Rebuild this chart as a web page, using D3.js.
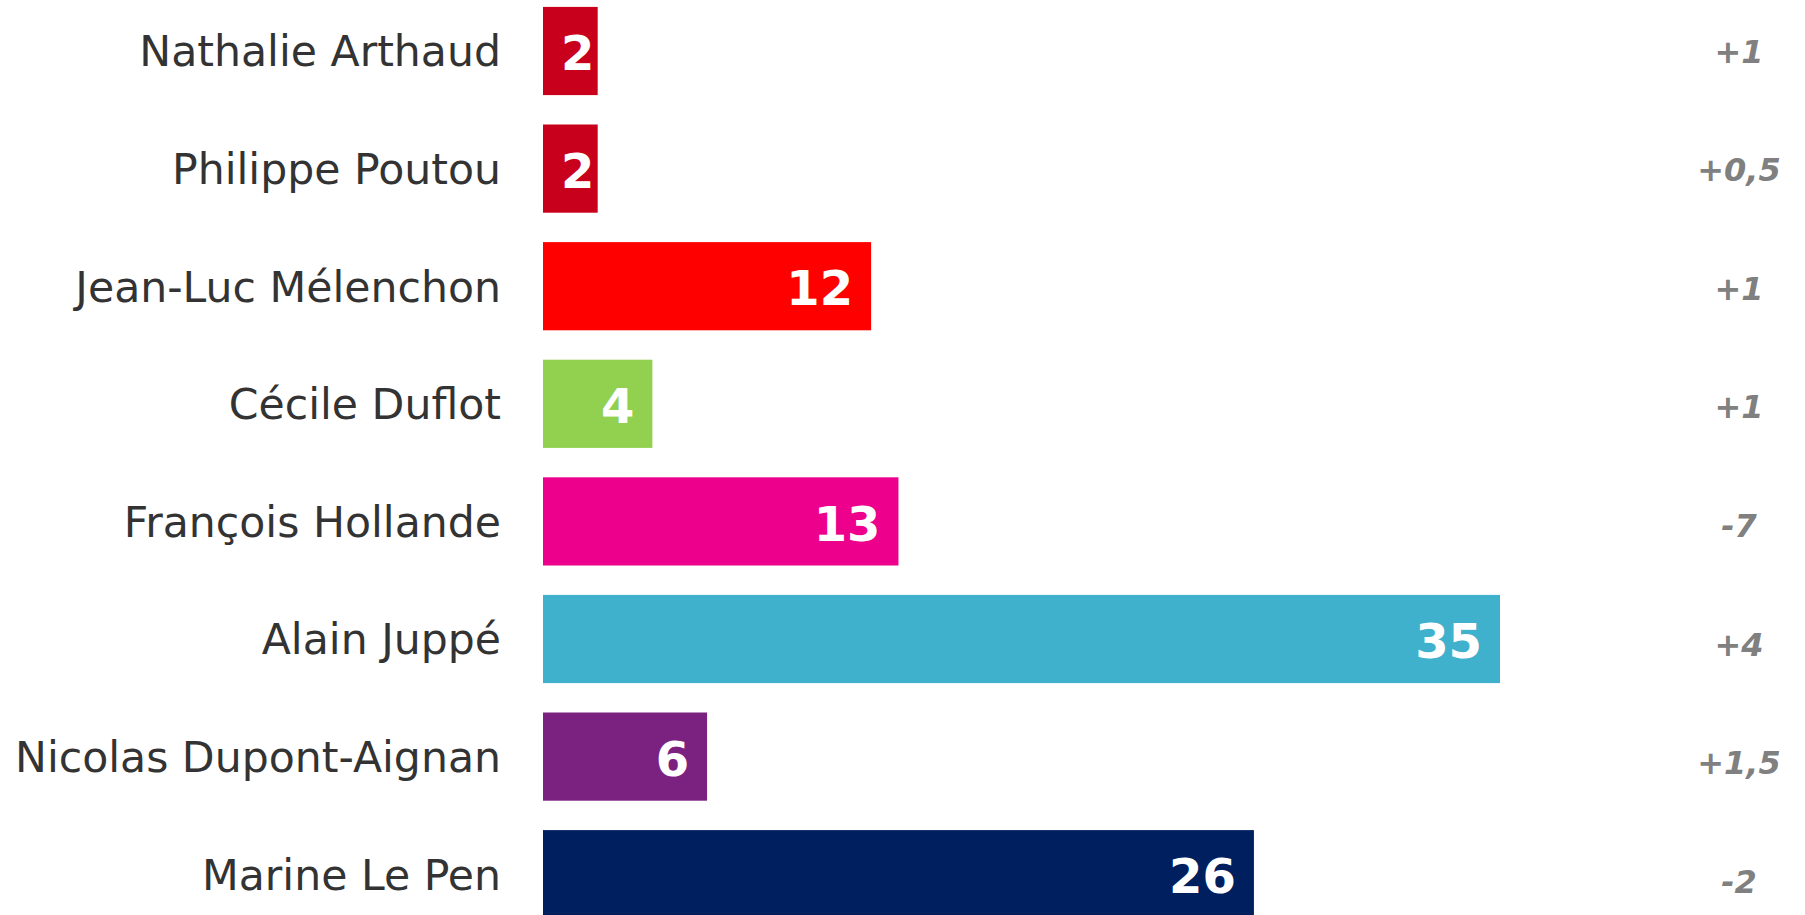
<!DOCTYPE html>
<html>
<head>
<meta charset="utf-8">
<script src="https://cdn.jsdelivr.net/npm/d3@7"></script>
<style>
  body { margin: 0; background: #fff; }
  svg { display: block; }
</style>
</head>
<body>
<div id="chart"></div>
<script>
// data
const candidates = ['Nathalie Arthaud', 'Philippe Poutou', 'Jean-Luc Mélenchon', 'Cécile Duflot',
    'François Hollande', 'Alain Juppé', 'Nicolas Dupont-Aignan', 'Marine Le Pen'];
const scores = [2, 2, 12, 4, 13, 35, 6, 26];
const changes = ['+1', '+0,5', '+1', '+1', '-7', '+4', '+1,5', '-2'];
const barColors = ['#c8001b', '#c8001b', '#ff0000', '#92d050', '#ec008c', '#40b1cd', '#7b2180', '#001f5f'];

const width = 1805, height = 915;
const barLeft = 543;

const svg = d3.select('#chart').append('svg')
    .attr('width', width)
    .attr('height', height);

const rows = candidates.map((name, i) => ({
    name, score: scores[i], change: changes[i], color: barColors[i]
}));

// scales
const xScale = d3.scaleLinear()
    .domain([0, 35])
    .range([barLeft, 1500]);

const yScale = d3.scaleBand()
    .domain(candidates)
    .range([-7.8, -7.8 + 8 * 117.6])
    .paddingInner(0.25)
    .paddingOuter(0.125);

// the change column is spaced a touch wider than the bars
const changeScale = d3.scalePoint()
    .domain(candidates)
    .range([51, 51 + 7 * 118.6]);

const bh = yScale.bandwidth();

const rowG = svg.selectAll('.row')
    .data(rows)
    .join('g')
    .attr('class', 'row')
    .attr('transform', d => `translate(0,${yScale(d.name)})`);

// bars
rowG.append('rect')
    .attr('x', xScale(0))
    .attr('y', 0)
    .attr('width', d => xScale(d.score) - xScale(0))
    .attr('height', bh)
    .attr('fill', d => d.color);

// candidate names
rowG.append('text')
    .attr('x', 501)
    .attr('y', bh / 2)
    .attr('dy', '0.36em')
    .attr('text-anchor', 'end')
    .attr('font-family', 'DejaVu Sans, Verdana, sans-serif')
    .attr('font-size', 42.6)
    .attr('fill', '#333333')
    .text(d => d.name);

// score labels inside bars
rowG.append('text')
    .attr('y', bh / 2)
    .attr('dy', '0.4em')
    .attr('text-anchor', 'start')
    .attr('font-family', 'DejaVu Sans, Verdana, sans-serif')
    .attr('font-weight', 'bold')
    .attr('font-size', 48)
    .attr('fill', '#ffffff')
    .text(d => d.score)
    .attr('x', function (d) {
        const w = this.getComputedTextLength();
        return Math.max(xScale(0) + 18, xScale(d.score) - 18 - w);
    });

// change column
svg.selectAll('.change')
    .data(rows)
    .join('text')
    .attr('class', 'change')
    .attr('x', 1739)
    .attr('y', d => changeScale(d.name))
    .attr('dy', '0.36em')
    .attr('text-anchor', 'middle')
    .attr('font-family', 'DejaVu Sans, Verdana, sans-serif')
    .attr('font-weight', 'bold')
    .attr('font-style', 'italic')
    .attr('font-size', 32)
    .attr('fill', '#808080')
    .text(d => d.change);
</script>
</body>
</html>
